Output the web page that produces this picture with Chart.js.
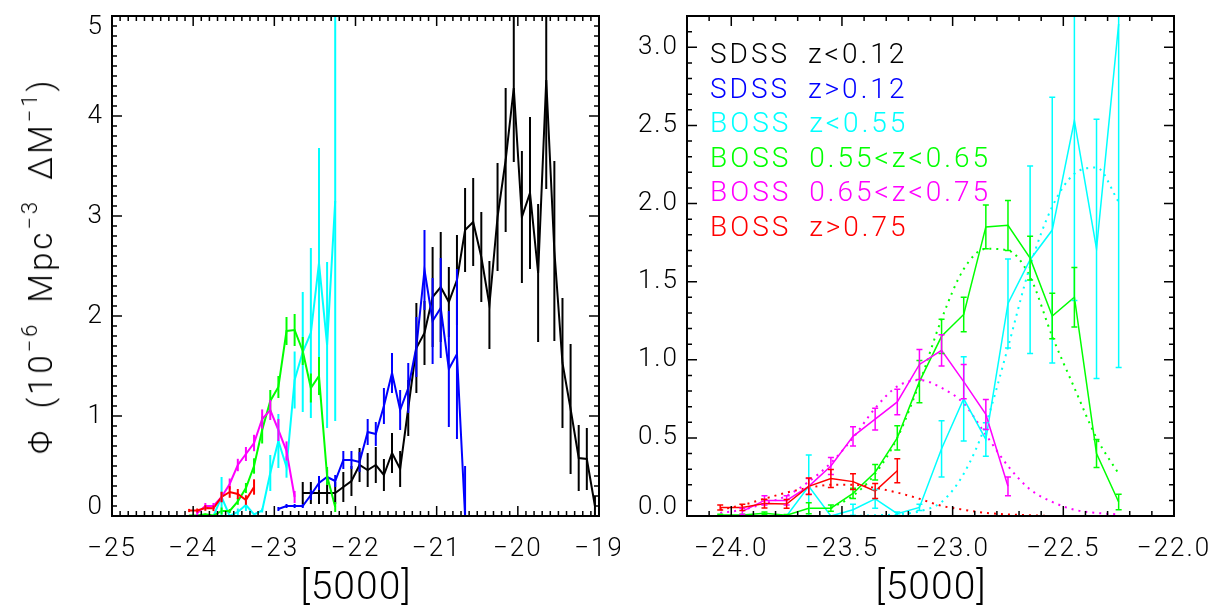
<!DOCTYPE html>
<html>
<head>
<meta charset="utf-8">
<script src="https://cdn.jsdelivr.net/npm/chart.js@4.4.1/dist/chart.umd.min.js"></script>
<style>
  html, body { margin: 0; padding: 0; background: #fff; }
  #wrap { position: relative; width: 1219px; height: 608px; overflow: hidden; }
  canvas { position: absolute; top: 0; }
  #lf { left: 0; }
  #rt { left: 620px; }
  .txt { position: absolute; font-family: Roboto, 'DejaVu Sans', sans-serif; font-weight: 300; white-space: nowrap; color: #000; }
  #ytitle { left: 40px; top: 266px; font-size: 33px; letter-spacing: 3px; word-spacing: 8px; transform: translate(-50%, -50%) rotate(-90deg); }
  #ytitle sup { font-size: 22px; position: relative; top: -3px; }
  .xtitle { top: 586px; font-size: 39px; letter-spacing: 1px; transform: translate(-50%, -50%); }
  .leg { left: 710px; font-size: 28px; letter-spacing: 3px; word-spacing: 8px; transform: translateY(-50%); }
</style>
</head>
<body>
<div id="wrap">
  <canvas id="lf" width="620" height="608"></canvas>
  <canvas id="rt" width="599" height="608"></canvas>
  <div id="ytitle" class="txt">&Phi; (10<sup>&minus;6</sup> Mpc<sup>&minus;3</sup> &Delta;M<sup>&minus;1</sup>)</div>
  <div class="txt xtitle" style="left:356px">[5000]</div>
  <div class="txt xtitle" style="left:931px">[5000]</div>
</div>
<script>
// --- dados ---
const legendLabels = ['SDSS z<0.12', 'SDSS z>0.12', 'BOSS z<0.55', 'BOSS 0.55<z<0.65', 'BOSS 0.65<z<0.75', 'BOSS z>0.75'];
const legendColors = ['#000000', '#0000ff', '#00ffff', '#00ff00', '#ff00ff', '#ff0000'];

// SDSS z<0.12 (preto)
const sdssLowMag = [-22.65, -22.55, -22.45, -22.35, -22.25, -22.15, -22.05, -21.95, -21.85, -21.75, -21.65, -21.55, -21.45, -21.35, -21.25, -21.15, -21.05, -20.95, -20.85, -20.75, -20.65, -20.55, -20.45, -20.35, -20.25, -20.15, -20.05, -19.95, -19.85, -19.75, -19.65, -19.55, -19.45, -19.35, -19.25, -19.15, -19.05];
const sdssLowPhi = [0.23, 0.23, 0.23, 0.23, 0.23, 0.29, 0.35, 0.51, 0.46, 0.51, 0.41, 0.63, 0.47, 1.08, 1.68, 1.83, 2.19, 2.29, 2.14, 2.36, 2.86, 2.94, 2.59, 2.11, 2.99, 3.56, 4.28, 2.99, 3.23, 2.43, 4.36, 2.65, 1.53, 1.07, 0.58, 0.57, 0.10];
const sdssLowErr = [0.11, 0.11, 0.11, 0.11, 0.11, 0.15, 0.15, 0.17, 0.17, 0.18, 0.16, 0.2, 0.18, 0.28, 0.45, 0.32, 0.5, 0.55, 0.35, 0.45, 0.42, 0.44, 0.45, 0.44, 0.54, 0.72, 0.74, 0.66, 0.76, 0.69, 1.09, 0.9, 0.65, 0.65, 0.33, 0.31, 0.1];

// SDSS z>0.12 (azul)
const sdssHighMag = [-22.95, -22.85, -22.75, -22.65, -22.55, -22.45, -22.35, -22.25, -22.15, -22.05, -21.95, -21.85, -21.75, -21.65, -21.55, -21.45, -21.35, -21.25, -21.15, -21.05, -20.95, -20.85, -20.75, -20.65];
const sdssHighPhi = [0.07, 0.10, 0.10, 0.10, 0.21, 0.33, 0.39, 0.35, 0.56, 0.56, 0.54, 0.84, 0.82, 1.10, 1.43, 1.06, 1.28, 1.69, 2.46, 1.95, 2.08, 1.47, 1.62, 0.0];
const sdssHighErr = [0.02, 0.02, 0.02, 0.02, 0.05, 0.07, 0.07, 0.06, 0.09, 0.09, 0.1, 0.13, 0.12, 0.18, 0.2, 0.2, 0.25, 0.3, 0.4, 0.43, 0.5, 0.58, 0.85, 0.5];

// BOSS
const bossMag = [-24.05, -23.95, -23.85, -23.75, -23.65, -23.55, -23.45, -23.35, -23.25, -23.15, -23.05, -22.95, -22.85, -22.75, -22.65, -22.55, -22.45, -22.35, -22.25];
const bossLowPhi = [0.0, 0.0, 0.0, 0.0, 0.19, 0.0, 0.04, 0.11, 0.015, 0.055, 0.43, 0.75, 0.49, 1.36, 1.64, 1.83, 2.53, 1.71, 3.15];
const bossLowErr = [0, 0, 0, 0, 0.2, 0, 0.035, 0.06, 0.01, 0.02, 0.18, 0.27, 0.107, 0.285, 0.6, 0.85, 1.15, 0.83, 2.2];
const bossMidPhi = [0.006, 0.006, 0.017, 0.005, 0.05, 0.05, 0.145, 0.28, 0.50, 0.86, 1.15, 1.29, 1.85, 1.86, 1.65, 1.28, 1.40, 0.40, 0.09];
const bossMidErr = [0.005, 0.005, 0.008, 0.005, 0.035, 0.02, 0.033, 0.05, 0.077, 0.135, 0.11, 0.11, 0.14, 0.16, 0.14, 0.145, 0.19, 0.09, 0.05];
const bossUpMag = [-23.95, -23.85, -23.75, -23.65, -23.55, -23.45, -23.35, -23.25, -23.15, -23.05, -22.95, -22.85, -22.75];
const bossUpPhi = [0.03, 0.10, 0.10, 0.19, 0.32, 0.51, 0.62, 0.73, 0.97, 1.06, 0.86, 0.65, 0.19];
const bossUpErr = [0.02, 0.03, 0.03, 0.05, 0.055, 0.062, 0.07, 0.082, 0.096, 0.1, 0.11, 0.096, 0.06];
const bossHighMag = [-24.05, -23.95, -23.85, -23.75, -23.65, -23.55, -23.45, -23.35, -23.25];
const bossHighPhi = [0.055, 0.055, 0.08, 0.077, 0.19, 0.24, 0.22, 0.16, 0.29];
const bossHighErr = [0.016, 0.02, 0.028, 0.028, 0.053, 0.058, 0.05, 0.048, 0.077];

// curvas pontilhadas (ajustes), lidas ponto a ponto
const fitLowMag = [-23.45, -23.35, -23.25, -23.15, -23.05, -22.95, -22.85, -22.75, -22.65, -22.55, -22.45, -22.35, -22.25];
const fitLowPhi = [0.0, 0.005, 0.01, 0.03, 0.09, 0.27, 0.59, 1.08, 1.60, 1.98, 2.19, 2.23, 2.01];
const fitMidMag = [-23.55, -23.45, -23.35, -23.25, -23.15, -23.05, -22.95, -22.85, -22.75, -22.65, -22.55, -22.45, -22.35, -22.25];
const fitMidPhi = [0.05, 0.13, 0.27, 0.50, 0.85, 1.26, 1.58, 1.71, 1.70, 1.53, 1.15, 0.82, 0.50, 0.27];
const fitUpPhi = [0.02, 0.04, 0.08, 0.13, 0.22, 0.34, 0.50, 0.69, 0.83, 0.87, 0.82, 0.72, 0.52, 0.32, 0.17, 0.09, 0.04, 0.02, 0.01];
const fitHighPhi = [0.04, 0.07, 0.11, 0.15, 0.18, 0.20, 0.20, 0.18, 0.15, 0.11, 0.065, 0.04, 0.02, 0.01, 0.005, 0.0, 0.0, 0.0, 0.0];

const leftXTicks = [-25, -24, -23, -22, -21, -20, -19];
const leftYTicks = [0, 1, 2, 3, 4, 5];
const rightXTicks = [-24.0, -23.5, -23.0, -22.5, -22.0];
const rightYTicks = [0.0, 0.5, 1.0, 1.5, 2.0, 2.5, 3.0];

// --- helpers ---
function pts(xs, ys) {
    return xs.map((x, i) => ({ x: x, y: ys[i] }));
}

function serie(xs, ys, errs, cor, ordem, largura) {
    return {
        data: pts(xs, ys),
        errs: errs,
        borderColor: cor,
        borderWidth: largura,
        pointRadius: 0,
        tension: 0,
        order: ordem
    };
}

function pontilhada(xs, ys, cor) {
    return {
        data: pts(xs, ys),
        borderColor: cor,
        borderWidth: 2,
        borderDash: [2, 5],
        pointRadius: 0,
        cubicInterpolationMode: 'monotone',
        order: 10
    };
}

const fmtMinus = s => s.replace('-', '\u2212');

// barras de erro desenhadas pelas escalas do gráfico
const barrasErro = {
    id: 'barrasErro',
    afterDatasetsDraw(chart, args, opts) {
        const { ctx, chartArea: a, scales: { x, y } } = chart;
        ctx.save();
        ctx.beginPath();
        ctx.rect(a.left, a.top, a.right - a.left, a.bottom - a.top);
        ctx.clip();
        const sets = chart.data.datasets.slice().sort((p, q) => q.order - p.order);
        for (const ds of sets) {
            if (!ds.errs) continue;
            ctx.strokeStyle = ds.borderColor;
            ctx.lineWidth = opts.width;
            ds.data.forEach((p, i) => {
                const e = ds.errs[i];
                if (!e) return;
                const px = x.getPixelForValue(p.x);
                const y1 = y.getPixelForValue(p.y + e);
                const y2 = y.getPixelForValue(p.y - e);
                ctx.beginPath();
                ctx.moveTo(px, y1); ctx.lineTo(px, y2);
                if (opts.cap) {
                    ctx.moveTo(px - opts.cap, y1); ctx.lineTo(px + opts.cap, y1);
                    ctx.moveTo(px - opts.cap, y2); ctx.lineTo(px + opts.cap, y2);
                }
                ctx.stroke();
            });
        }
        ctx.restore();
    }
};

// caixa com marcas para dentro, no estilo IDL
const eixosIdl = {
    id: 'eixosIdl',
    afterDraw(chart, args, o) {
        const { ctx, chartArea: a, scales: { x, y } } = chart;
        ctx.save();
        ctx.strokeStyle = '#000';
        ctx.lineWidth = 2;
        ctx.strokeRect(a.left, a.top, a.right - a.left, a.bottom - a.top);
        ctx.lineWidth = 1.5;
        ctx.beginPath();
        const marcasX = (step, len) => {
            for (let i = Math.ceil(x.min / step - 1e-6); i * step <= x.max + 1e-6; i++) {
                const px = x.getPixelForValue(i * step);
                ctx.moveTo(px, a.bottom); ctx.lineTo(px, a.bottom - len);
                ctx.moveTo(px, a.top); ctx.lineTo(px, a.top + len);
            }
        };
        const marcasY = (step, len) => {
            for (let i = Math.ceil(y.min / step - 1e-6); i * step <= y.max + 1e-6; i++) {
                const py = y.getPixelForValue(i * step);
                ctx.moveTo(a.left, py); ctx.lineTo(a.left + len, py);
                ctx.moveTo(a.right, py); ctx.lineTo(a.right - len, py);
            }
        };
        marcasX(o.xMinor, 5); marcasX(o.xMajor, 10);
        marcasY(o.yMinor, 5); marcasY(o.yMajor, 10);
        ctx.stroke();

        ctx.fillStyle = '#000';
        ctx.font = '300 26px Roboto, "DejaVu Sans", sans-serif';
        ctx.letterSpacing = '2px';
        ctx.textBaseline = 'middle';
        ctx.textAlign = 'center';
        o.xTicks.forEach(v => {
            ctx.fillText(fmtMinus(v.toFixed(o.dec)), x.getPixelForValue(v), a.bottom + 33);
        });
        ctx.textAlign = 'right';
        const h = 10;
        o.yTicks.forEach(v => {
            let py = y.getPixelForValue(v);
            py = Math.min(Math.max(py, a.top + h + 1), a.bottom - h + 1);
            ctx.fillText(v.toFixed(o.dec), a.left - 8, py);
        });
        ctx.restore();
    }
};

function opcoes(xmin, xmax, ymax, eixos, erro, padding) {
    return {
        responsive: false,
        animation: false,
        layout: { padding: padding },
        plugins: {
            legend: { display: false },
            tooltip: { enabled: false },
            eixosIdl: eixos,
            barrasErro: erro
        },
        scales: {
            x: { type: 'linear', min: xmin, max: xmax, display: false },
            y: { type: 'linear', min: 0, max: ymax, display: false }
        }
    };
}

// painel esquerdo
new Chart(document.getElementById('lf').getContext('2d'), {
    type: 'line',
    data: {
        datasets: [
            serie(sdssLowMag, sdssLowPhi, sdssLowErr, legendColors[0], 6, 2),
            serie(sdssHighMag, sdssHighPhi, sdssHighErr, legendColors[1], 5, 2),
            serie(bossMag, bossLowPhi, bossLowErr, legendColors[2], 4, 2),
            serie(bossMag, bossMidPhi, bossMidErr, legendColors[3], 3, 2),
            serie(bossUpMag, bossUpPhi, bossUpErr, legendColors[4], 2, 2),
            serie(bossHighMag, bossHighPhi, bossHighErr, legendColors[5], 1, 2)
        ]
    },
    options: opcoes(-25, -19, 5,
        { xMajor: 1, xMinor: 0.1, yMajor: 1, yMinor: 0.1, xTicks: leftXTicks, yTicks: leftYTicks, dec: 0 },
        { width: 2, cap: 0 },
        { left: 112, right: 21, top: 16, bottom: 92 }),
    plugins: [barrasErro, eixosIdl]
});

// painel direito
new Chart(document.getElementById('rt').getContext('2d'), {
    type: 'line',
    data: {
        datasets: [
            serie(bossMag, bossLowPhi, bossLowErr, legendColors[2], 4, 1.5),
            serie(bossMag, bossMidPhi, bossMidErr, legendColors[3], 3, 1.5),
            serie(bossUpMag, bossUpPhi, bossUpErr, legendColors[4], 2, 1.5),
            serie(bossHighMag, bossHighPhi, bossHighErr, legendColors[5], 1, 1.5),
            pontilhada(fitLowMag, fitLowPhi, legendColors[2]),
            pontilhada(fitMidMag, fitMidPhi, legendColors[3]),
            pontilhada(bossMag, fitUpPhi, legendColors[4]),
            pontilhada(bossMag, fitHighPhi, legendColors[5])
        ]
    },
    options: opcoes(-24.2, -22.0, 3.2,
        { xMajor: 0.5, xMinor: 0.1, yMajor: 0.5, yMinor: 0.1, xTicks: rightXTicks, yTicks: rightYTicks, dec: 1 },
        { width: 1.5, cap: 3 },
        { left: 67, right: 45, top: 16, bottom: 92 }),
    plugins: [barrasErro, eixosIdl]
});

// legenda em texto
const wrap = document.getElementById('wrap');
legendLabels.forEach((txt, i) => {
    const d = document.createElement('div');
    d.className = 'txt leg';
    d.style.top = (53 + i * 34.6) + 'px';
    d.style.color = legendColors[i];
    d.textContent = txt;
    wrap.appendChild(d);
});
</script>
</body>
</html>
